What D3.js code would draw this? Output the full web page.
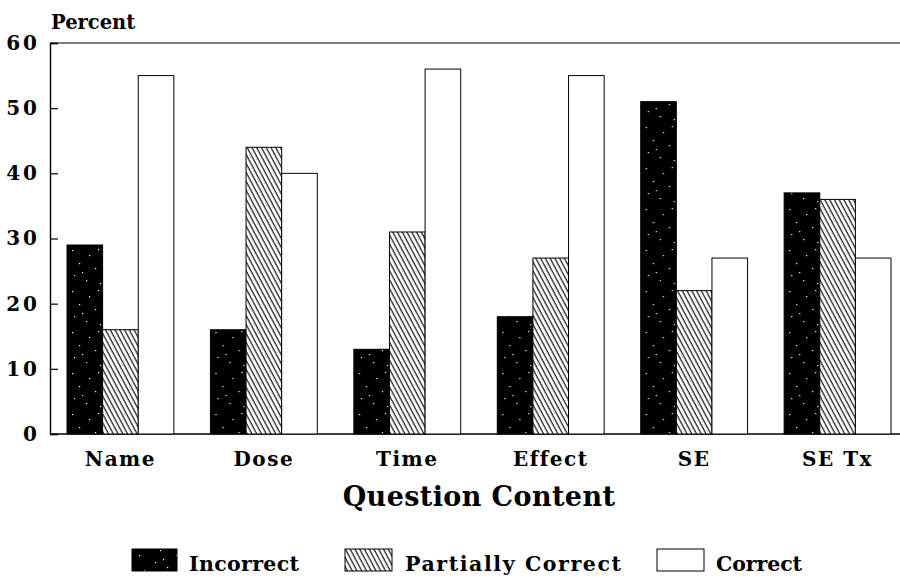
<!DOCTYPE html>
<html><head><meta charset="utf-8">
<script src="https://cdn.jsdelivr.net/npm/d3@7"></script>
<style>body{margin:0;background:#fff}svg{display:block}</style>
</head><body>
<script>
const categories = ["Name","Dose","Time","Effect","SE","SE Tx"];
const seriesNames = ["Incorrect","Partially Correct","Correct"];
const incorrect = [29,16,13,18,51,37];
const partial   = [16,44,31,27,22,36];
const correct   = [55,40,56,55,27,27];
const yTicks = [0,10,20,30,40,50,60];
const seriesValues = [incorrect, partial, correct];

const W=900,H=578;
const svg=d3.select("body").append("svg").attr("width",W).attr("height",H);
const defs=svg.append("defs");
const FONT="'DejaVu Serif', 'Liberation Serif', serif";

// patterns
const pBlack=defs.append("pattern").attr("id","pBlack").attr("patternUnits","userSpaceOnUse")
  .attr("width",37).attr("height",41);
pBlack.append("rect").attr("width",37).attr("height",41).attr("fill","#000");
[[5,4],[22,9],[31,3],[12,17],[28,22],[7,29],[19,34],[33,37],[15,26]].forEach(([x,y])=>
  pBlack.append("rect").attr("x",x).attr("y",y).attr("width",1.2).attr("height",1.2).attr("fill","#fff"));
const pHatch=defs.append("pattern").attr("id","pHatch").attr("patternUnits","userSpaceOnUse")
  .attr("width",4.2).attr("height",10).attr("patternTransform","rotate(-28)");
pHatch.append("rect").attr("width",4.2).attr("height",10).attr("fill","#fff");
pHatch.append("line").attr("x1",1).attr("x2",1).attr("y1",0).attr("y2",10).attr("stroke","#000").attr("stroke-width",1.1);

const fills=["url(#pBlack)","url(#pHatch)","#fff"];

const x0=d3.scaleBand().domain(categories).range([67,891]).paddingInner(0.255).paddingOuter(0);
const x1=d3.scaleBand().domain(seriesNames).range([0,x0.bandwidth()]).padding(0);
const y=d3.scaleLinear().domain([0,60]).range([434,43]);

const axL=50, axR=900;
svg.append("line").attr("x1",axL).attr("x2",axR).attr("y1",y(60)).attr("y2",y(60)).attr("stroke","#000").attr("stroke-width",1.2);
svg.append("line").attr("x1",axL).attr("x2",axR).attr("y1",y(0)).attr("y2",y(0)).attr("stroke","#000").attr("stroke-width",1.6);

// y axis
const yAxis=d3.axisLeft(y).tickValues(yTicks).tickSize(-8).tickFormat(d3.format("d"));
const gy=svg.append("g").attr("transform",`translate(${axL},0)`).call(yAxis);
gy.select(".domain").attr("stroke-width",1.4);
gy.selectAll(".tick line").attr("stroke-width",1.2);
gy.selectAll(".tick text").attr("x",-10).attr("font-family",FONT).attr("font-weight","bold")
  .attr("font-size",20).attr("letter-spacing",3).attr("fill","#000");

// bars
const groups=svg.append("g").selectAll("g").data(categories).join("g")
  .attr("transform",d=>`translate(${x0(d)},0)`);
groups.selectAll("rect").data((d,i)=>seriesNames.map((s,j)=>({s,j,v:seriesValues[j][i]}))).join("rect")
  .attr("x",d=>x1(d.s)).attr("width",x1.bandwidth())
  .attr("y",d=>y(d.v)).attr("height",d=>y(0)-y(d.v))
  .attr("fill",d=>fills[d.j]).attr("stroke","#000").attr("stroke-width",1);

// x labels
const xAxis=d3.axisBottom(x0).tickSize(0);
const gx=svg.append("g").attr("transform",`translate(0,${y(0)})`).call(xAxis);
gx.select(".domain").remove();
gx.selectAll(".tick text").attr("y",32).attr("dy",0)
  .attr("font-family",FONT).attr("font-weight","bold").attr("font-size",20).attr("letter-spacing",1.5).attr("fill","#000");

// titles
svg.append("text").attr("x",51).attr("y",29).text("Percent")
  .attr("font-family",FONT).attr("font-weight","bold").attr("font-size",19.5);
svg.append("text").attr("x",479).attr("y",506).attr("text-anchor","middle").text("Question Content")
  .attr("font-family",FONT).attr("font-weight","bold").attr("font-size",27).attr("letter-spacing",0.4);

// legend
const legItems=[{x:132,w:45,tx:189,len:110},{x:345,w:47,tx:405,len:216},{x:657,w:47,tx:716,len:86}];
const lg=svg.append("g");
legItems.forEach((it,i)=>{
  lg.append("rect").attr("x",it.x).attr("y",549).attr("width",it.w).attr("height",22)
    .attr("fill",fills[i]).attr("stroke","#000").attr("stroke-width",1);
  lg.append("text").attr("x",it.tx).attr("y",571).text(seriesNames[i])
    .attr("font-family",FONT).attr("font-weight","bold").attr("font-size",20.5)
    .attr("textLength",it.len).attr("lengthAdjust","spacing");
});
</script>
</body></html>
